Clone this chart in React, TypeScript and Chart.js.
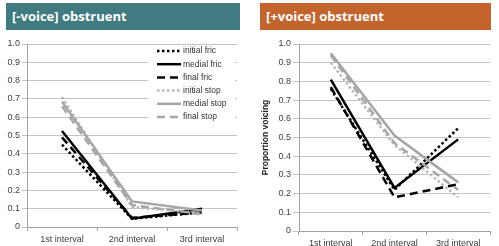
import React, { useEffect, useRef } from 'react';
import { Chart, registerables } from 'chart.js';

Chart.register(...registerables);

// ---- data ----
const categories = ['1st interval', '2nd interval', '3rd interval'];
const seriesNames = ['initial fric', 'medial fric', 'final fric', 'initial stop', 'medial stop', 'final stop'];

// [-voice] obstruent
const vlInitialFric = [0.45, 0.045, 0.08];
const vlMedialFric = [0.525, 0.045, 0.1];
const vlFinalFric = [0.49, 0.05, 0.08];
const vlInitialStop = [0.71, 0.11, 0.075];
const vlMedialStop = [0.685, 0.14, 0.09];
const vlFinalStop = [0.66, 0.12, 0.07];

// [+voice] obstruent
const vdInitialFric = [0.76, 0.22, 0.55];
const vdMedialFric = [0.81, 0.23, 0.49];
const vdFinalFric = [0.77, 0.18, 0.25];
const vdInitialStop = [0.9, 0.46, 0.18];
const vdMedialStop = [0.95, 0.51, 0.26];
const vdFinalStop = [0.94, 0.47, 0.22];

const leftTitle = '[-voice] obstruent';
const rightTitle = '[+voice] obstruent';
const rightYTitle = 'Proportion voicing';

const seriesStyles = [
  { color: '#000000', dash: [2.5, 2.5] },
  { color: '#000000', dash: [] as number[] },
  { color: '#000000', dash: [8, 5] },
  { color: '#b8b8b8', dash: [2.5, 2.5] },
  { color: '#a6a6a6', dash: [] as number[] },
  { color: '#a6a6a6', dash: [8, 5] },
];

const tickFont = { family: '"Liberation Sans", Arial, sans-serif', size: 9 };
const tickColor = '#404040';

const insideLegend = {
  id: 'insideLegend',
  afterDraw(chart: any) {
    const { ctx, chartArea } = chart;
    const x0 = chartArea.right - 89;
    const y0 = chartArea.top + 2;
    ctx.save();
    ctx.fillStyle = '#ffffff';
    ctx.fillRect(x0, y0, 87, 77);
    chart.data.datasets.forEach((ds: any, i: number) => {
      const y = y0 + 5 + i * 13.2;
      ctx.strokeStyle = ds.borderColor;
      ctx.lineWidth = 2.5;
      ctx.setLineDash(ds.borderDash || []);
      ctx.beginPath();
      ctx.moveTo(x0 + 9, y);
      ctx.lineTo(x0 + 33, y);
      ctx.stroke();
      ctx.setLineDash([]);
      ctx.fillStyle = '#333333';
      ctx.font = '8.5px "Liberation Sans", Arial, sans-serif';
      ctx.textBaseline = 'middle';
      ctx.textAlign = 'left';
      ctx.fillText(ds.label, x0 + 35, y);
    });
    ctx.restore();
  },
};

type PanelProps = {
  series: number[][];
  width: number;
  height: number;
  yAxisWidth: number;
  xAxisHeight: number;
  padTop: number;
  padRight: number;
  tickLen: number;
  yTitle?: string;
  legend?: boolean;
};

function ChartPanel(p: PanelProps) {
  const ref = useRef<HTMLCanvasElement>(null);
  useEffect(() => {
    if (!ref.current) return;
    const datasets = p.series.map((vals, i) => ({
      label: seriesNames[i],
      data: vals,
      borderColor: seriesStyles[i].color,
      backgroundColor: seriesStyles[i].color,
      borderDash: seriesStyles[i].dash,
      borderWidth: 2.5,
      pointRadius: 0,
      tension: 0,
      fill: false,
      order: -i,
    }));
    const chart = new Chart(ref.current, {
      type: 'line',
      data: { labels: categories, datasets },
      plugins: p.legend ? [insideLegend] : [],
      options: {
        responsive: false,
        animation: false,
        devicePixelRatio: 1,
        layout: { padding: { top: p.padTop, right: p.padRight, left: 0, bottom: 0 } },
        plugins: { legend: { display: false }, tooltip: { enabled: false } },
        scales: {
          x: {
            type: 'category',
            offset: true,
            grid: { offset: true, drawOnChartArea: false, drawTicks: true, tickLength: 4, color: '#a0a0a0' },
            border: { color: '#a0a0a0' },
            ticks: { font: tickFont, color: tickColor, maxRotation: 0, autoSkip: false, padding: 3 },
            afterFit: (s: any) => { s.height = p.xAxisHeight; },
          },
          y: {
            min: 0,
            max: 1,
            ticks: { stepSize: 0.1, font: tickFont, color: tickColor, padding: 2 },
            grid: { color: '#c4c4c4', tickLength: p.tickLen, drawTicks: true },
            border: { color: '#a0a0a0' },
            title: p.yTitle
              ? {
                  display: true,
                  text: p.yTitle,
                  color: '#222222',
                  font: { family: '"Liberation Sans", Arial, sans-serif', size: 8.5, weight: 'bold' },
                  padding: { top: 11, bottom: 0 },
                }
              : { display: false },
            afterFit: (s: any) => { s.width = p.yAxisWidth; },
          },
        },
      } as any,
    });
    return () => chart.destroy();
  }, []);
  return <canvas ref={ref} width={p.width} height={p.height} style={{ width: p.width, height: p.height, display: 'block' }} />;
}

const bannerText: React.CSSProperties = {
  position: 'absolute',
  top: 3,
  height: 27,
  lineHeight: '27px',
  color: '#ffffff',
  fontFamily: '"Open Sans", sans-serif',
  fontWeight: 700,
  fontSize: 13,
  paddingLeft: 6,
  boxSizing: 'border-box',
  whiteSpace: 'nowrap',
};

export default function App() {
  return (
    <div style={{ position: 'fixed', left: 0, top: 0, width: 499, height: 246, overflow: 'hidden', background: '#ffffff' }}>
      <div style={{ ...bannerText, left: 6, width: 234, background: '#3f7b80' }}>{leftTitle}</div>
      <div style={{ ...bannerText, left: 260, width: 231, background: '#c4642d' }}>{rightTitle}</div>
      <div style={{ position: 'absolute', left: 0, top: 33 }}>
        <ChartPanel
          series={[vlInitialFric, vlMedialFric, vlFinalFric, vlInitialStop, vlMedialStop, vlFinalStop]}
          width={245}
          height={213}
          yAxisWidth={27}
          xAxisHeight={19}
          padTop={11}
          padRight={8}
          tickLen={5}
          legend
        />
      </div>
      <div style={{ position: 'absolute', left: 250, top: 33 }}>
        <ChartPanel
          series={[vdInitialFric, vdMedialFric, vdFinalFric, vdInitialStop, vdMedialStop, vdFinalStop]}
          width={249}
          height={225}
          yAxisWidth={49}
          xAxisHeight={27}
          padTop={11}
          padRight={9}
          tickLen={6}
          yTitle={rightYTitle}
        />
      </div>
    </div>
  );
}
